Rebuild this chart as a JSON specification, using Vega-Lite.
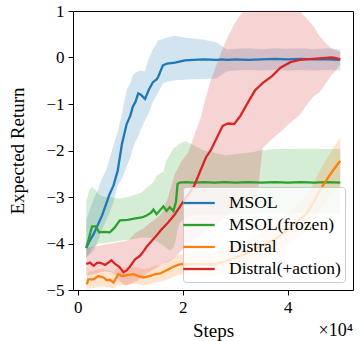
{
  "$schema": "https://vega.github.io/schema/vega-lite/v6.json",
  "width": 280,
  "height": 279,
  "autosize": {"type": "none"},
  "padding": {"left": 73, "top": 11, "right": 7, "bottom": 51},
  "datasets": {
    "curves": [
      {"series": "MSOL", "step": 1600, "mean": -4.09, "lo": -4.3, "hi": -3.5},
      {"series": "MSOL", "step": 2200, "mean": -3.95, "lo": -4.25, "hi": -3.3},
      {"series": "MSOL", "step": 3000, "mean": -3.8, "lo": -4.15, "hi": -3.05},
      {"series": "MSOL", "step": 3800, "mean": -3.6, "lo": -3.95, "hi": -2.85},
      {"series": "MSOL", "step": 4600, "mean": -3.4, "lo": -3.7, "hi": -2.6},
      {"series": "MSOL", "step": 5400, "mean": -3.15, "lo": -3.5, "hi": -2.42},
      {"series": "MSOL", "step": 6000, "mean": -2.95, "lo": -3.35, "hi": -2.2},
      {"series": "MSOL", "step": 6800, "mean": -2.75, "lo": -3.1, "hi": -1.88},
      {"series": "MSOL", "step": 7600, "mean": -2.43, "lo": -2.75, "hi": -1.6},
      {"series": "MSOL", "step": 8400, "mean": -1.86, "lo": -2.6, "hi": -1.2},
      {"series": "MSOL", "step": 9300, "mean": -1.43, "lo": -2.35, "hi": -0.7},
      {"series": "MSOL", "step": 10000, "mean": -1.25, "lo": -2.15, "hi": -0.55},
      {"series": "MSOL", "step": 10500, "mean": -1.05, "lo": -1.95, "hi": -0.38},
      {"series": "MSOL", "step": 11000, "mean": -0.95, "lo": -1.8, "hi": -0.32},
      {"series": "MSOL", "step": 11500, "mean": -0.77, "lo": -1.7, "hi": -0.3},
      {"series": "MSOL", "step": 12000, "mean": -0.8, "lo": -1.55, "hi": -0.28},
      {"series": "MSOL", "step": 12800, "mean": -0.89, "lo": -1.35, "hi": -0.3},
      {"series": "MSOL", "step": 13500, "mean": -0.7, "lo": -1.2, "hi": -0.02},
      {"series": "MSOL", "step": 14300, "mean": -0.53, "lo": -0.95, "hi": 0.18},
      {"series": "MSOL", "step": 15000, "mean": -0.47, "lo": -0.82, "hi": 0.3},
      {"series": "MSOL", "step": 15300, "mean": -0.42, "lo": -0.75, "hi": 0.37},
      {"series": "MSOL", "step": 16200, "mean": -0.17, "lo": -0.56, "hi": 0.4},
      {"series": "MSOL", "step": 17000, "mean": -0.13, "lo": -0.52, "hi": 0.43},
      {"series": "MSOL", "step": 18500, "mean": -0.11, "lo": -0.49, "hi": 0.47},
      {"series": "MSOL", "step": 20400, "mean": -0.06, "lo": -0.48, "hi": 0.43},
      {"series": "MSOL", "step": 22000, "mean": -0.05, "lo": -0.47, "hi": 0.41},
      {"series": "MSOL", "step": 24000, "mean": -0.04, "lo": -0.46, "hi": 0.38},
      {"series": "MSOL", "step": 26400, "mean": -0.05, "lo": -0.45, "hi": 0.33},
      {"series": "MSOL", "step": 27500, "mean": -0.04, "lo": -0.36, "hi": 0.24},
      {"series": "MSOL", "step": 28400, "mean": -0.05, "lo": -0.3, "hi": 0.17},
      {"series": "MSOL", "step": 30000, "mean": -0.04, "lo": -0.28, "hi": 0.19},
      {"series": "MSOL", "step": 32500, "mean": -0.05, "lo": -0.27, "hi": 0.2},
      {"series": "MSOL", "step": 35000, "mean": -0.04, "lo": -0.28, "hi": 0.18},
      {"series": "MSOL", "step": 37500, "mean": -0.03, "lo": -0.27, "hi": 0.2},
      {"series": "MSOL", "step": 40000, "mean": -0.04, "lo": -0.28, "hi": 0.19},
      {"series": "MSOL", "step": 42500, "mean": -0.03, "lo": -0.27, "hi": 0.2},
      {"series": "MSOL", "step": 45000, "mean": -0.04, "lo": -0.28, "hi": 0.18},
      {"series": "MSOL", "step": 47500, "mean": -0.04, "lo": -0.27, "hi": 0.2},
      {"series": "MSOL", "step": 50000, "mean": -0.05, "lo": -0.28, "hi": 0.17},

      {"series": "MSOL(frozen)", "step": 1600, "mean": -4.1, "lo": -4.3, "hi": -3.1},
      {"series": "MSOL(frozen)", "step": 2200, "mean": -3.85, "lo": -4.2, "hi": -2.85},
      {"series": "MSOL(frozen)", "step": 2700, "mean": -3.63, "lo": -4.1, "hi": -2.78},
      {"series": "MSOL(frozen)", "step": 3400, "mean": -3.63, "lo": -4.05, "hi": -2.85},
      {"series": "MSOL(frozen)", "step": 4050, "mean": -3.76, "lo": -4.0, "hi": -2.95},
      {"series": "MSOL(frozen)", "step": 5000, "mean": -3.75, "lo": -4.0, "hi": -3.0},
      {"series": "MSOL(frozen)", "step": 6100, "mean": -3.76, "lo": -3.98, "hi": -3.0},
      {"series": "MSOL(frozen)", "step": 7000, "mean": -3.66, "lo": -3.96, "hi": -3.02},
      {"series": "MSOL(frozen)", "step": 8000, "mean": -3.5, "lo": -3.94, "hi": -3.04},
      {"series": "MSOL(frozen)", "step": 9500, "mean": -3.49, "lo": -3.92, "hi": -3.0},
      {"series": "MSOL(frozen)", "step": 11000, "mean": -3.46, "lo": -3.9, "hi": -2.95},
      {"series": "MSOL(frozen)", "step": 12200, "mean": -3.44, "lo": -3.87, "hi": -2.9},
      {"series": "MSOL(frozen)", "step": 13100, "mean": -3.4, "lo": -3.87, "hi": -2.8},
      {"series": "MSOL(frozen)", "step": 14000, "mean": -3.33, "lo": -3.88, "hi": -2.72},
      {"series": "MSOL(frozen)", "step": 14400, "mean": -3.27, "lo": -3.9, "hi": -2.68},
      {"series": "MSOL(frozen)", "step": 15000, "mean": -3.37, "lo": -3.95, "hi": -2.55},
      {"series": "MSOL(frozen)", "step": 16300, "mean": -3.2, "lo": -4.05, "hi": -2.45},
      {"series": "MSOL(frozen)", "step": 16900, "mean": -3.3, "lo": -4.1, "hi": -2.2},
      {"series": "MSOL(frozen)", "step": 17500, "mean": -3.22, "lo": -4.15, "hi": -2.1},
      {"series": "MSOL(frozen)", "step": 18200, "mean": -3.3, "lo": -4.1, "hi": -1.95},
      {"series": "MSOL(frozen)", "step": 18700, "mean": -3.1, "lo": -3.9, "hi": -1.92},
      {"series": "MSOL(frozen)", "step": 19000, "mean": -2.72, "lo": -3.7, "hi": -1.9},
      {"series": "MSOL(frozen)", "step": 19400, "mean": -2.69, "lo": -3.55, "hi": -1.85},
      {"series": "MSOL(frozen)", "step": 20500, "mean": -2.68, "lo": -3.45, "hi": -1.8},
      {"series": "MSOL(frozen)", "step": 22000, "mean": -2.69, "lo": -3.4, "hi": -1.88},
      {"series": "MSOL(frozen)", "step": 24000, "mean": -2.68, "lo": -3.38, "hi": -2.0},
      {"series": "MSOL(frozen)", "step": 26000, "mean": -2.69, "lo": -3.38, "hi": -2.05},
      {"series": "MSOL(frozen)", "step": 28000, "mean": -2.68, "lo": -3.4, "hi": -2.1},
      {"series": "MSOL(frozen)", "step": 30000, "mean": -2.69, "lo": -3.38, "hi": -2.08},
      {"series": "MSOL(frozen)", "step": 32500, "mean": -2.68, "lo": -3.37, "hi": -2.05},
      {"series": "MSOL(frozen)", "step": 35000, "mean": -2.69, "lo": -3.36, "hi": -2.0},
      {"series": "MSOL(frozen)", "step": 37500, "mean": -2.68, "lo": -3.35, "hi": -1.97},
      {"series": "MSOL(frozen)", "step": 40000, "mean": -2.69, "lo": -3.36, "hi": -1.97},
      {"series": "MSOL(frozen)", "step": 42500, "mean": -2.68, "lo": -3.35, "hi": -1.96},
      {"series": "MSOL(frozen)", "step": 45000, "mean": -2.69, "lo": -3.36, "hi": -1.96},
      {"series": "MSOL(frozen)", "step": 47500, "mean": -2.68, "lo": -3.35, "hi": -1.97},
      {"series": "MSOL(frozen)", "step": 50000, "mean": -2.69, "lo": -3.37, "hi": -1.97},

      {"series": "Distral", "step": 1700, "mean": -4.88, "lo": -4.98, "hi": -4.72},
      {"series": "Distral", "step": 2000, "mean": -4.77, "lo": -4.97, "hi": -4.6},
      {"series": "Distral", "step": 3000, "mean": -4.77, "lo": -4.96, "hi": -4.58},
      {"series": "Distral", "step": 3900, "mean": -4.7, "lo": -4.93, "hi": -4.55},
      {"series": "Distral", "step": 4900, "mean": -4.73, "lo": -4.92, "hi": -4.55},
      {"series": "Distral", "step": 5500, "mean": -4.79, "lo": -4.95, "hi": -4.58},
      {"series": "Distral", "step": 6100, "mean": -4.78, "lo": -4.95, "hi": -4.58},
      {"series": "Distral", "step": 6800, "mean": -4.84, "lo": -4.97, "hi": -4.62},
      {"series": "Distral", "step": 7700, "mean": -4.66, "lo": -4.9, "hi": -4.5},
      {"series": "Distral", "step": 8400, "mean": -4.7, "lo": -4.9, "hi": -4.52},
      {"series": "Distral", "step": 9300, "mean": -4.68, "lo": -4.9, "hi": -4.5},
      {"series": "Distral", "step": 10600, "mean": -4.66, "lo": -4.87, "hi": -4.5},
      {"series": "Distral", "step": 11500, "mean": -4.7, "lo": -4.88, "hi": -4.52},
      {"series": "Distral", "step": 12500, "mean": -4.73, "lo": -4.9, "hi": -4.55},
      {"series": "Distral", "step": 13700, "mean": -4.7, "lo": -4.88, "hi": -4.52},
      {"series": "Distral", "step": 14700, "mean": -4.66, "lo": -4.85, "hi": -4.48},
      {"series": "Distral", "step": 15600, "mean": -4.65, "lo": -4.83, "hi": -4.46},
      {"series": "Distral", "step": 17000, "mean": -4.57, "lo": -4.78, "hi": -4.38},
      {"series": "Distral", "step": 18200, "mean": -4.5, "lo": -4.72, "hi": -4.3},
      {"series": "Distral", "step": 19100, "mean": -4.46, "lo": -4.68, "hi": -4.25},
      {"series": "Distral", "step": 20000, "mean": -4.44, "lo": -4.66, "hi": -4.22},
      {"series": "Distral", "step": 23000, "mean": -4.45, "lo": -4.68, "hi": -4.2},
      {"series": "Distral", "step": 26000, "mean": -4.45, "lo": -4.7, "hi": -4.2},
      {"series": "Distral", "step": 29000, "mean": -4.35, "lo": -4.62, "hi": -4.08},
      {"series": "Distral", "step": 32000, "mean": -4.22, "lo": -4.5, "hi": -3.93},
      {"series": "Distral", "step": 35000, "mean": -4.05, "lo": -4.35, "hi": -3.75},
      {"series": "Distral", "step": 38000, "mean": -3.88, "lo": -4.2, "hi": -3.55},
      {"series": "Distral", "step": 41000, "mean": -3.6, "lo": -3.95, "hi": -3.25},
      {"series": "Distral", "step": 43500, "mean": -3.37, "lo": -3.75, "hi": -2.98},
      {"series": "Distral", "step": 45000, "mean": -3.1, "lo": -3.5, "hi": -2.7},
      {"series": "Distral", "step": 46000, "mean": -2.88, "lo": -3.3, "hi": -2.45},
      {"series": "Distral", "step": 47300, "mean": -2.65, "lo": -3.1, "hi": -2.2},
      {"series": "Distral", "step": 48600, "mean": -2.43, "lo": -2.9, "hi": -1.95},
      {"series": "Distral", "step": 50000, "mean": -2.22, "lo": -2.75, "hi": -1.72},

      {"series": "Distral(+action)", "step": 1600, "mean": -4.44, "lo": -4.7, "hi": -4.1},
      {"series": "Distral(+action)", "step": 2300, "mean": -4.41, "lo": -4.68, "hi": -4.08},
      {"series": "Distral(+action)", "step": 3000, "mean": -4.48, "lo": -4.66, "hi": -4.07},
      {"series": "Distral(+action)", "step": 3600, "mean": -4.42, "lo": -4.65, "hi": -4.06},
      {"series": "Distral(+action)", "step": 4200, "mean": -4.41, "lo": -4.62, "hi": -4.05},
      {"series": "Distral(+action)", "step": 5200, "mean": -4.46, "lo": -4.6, "hi": -4.02},
      {"series": "Distral(+action)", "step": 6400, "mean": -4.36, "lo": -4.62, "hi": -4.0},
      {"series": "Distral(+action)", "step": 7100, "mean": -4.44, "lo": -4.68, "hi": -3.99},
      {"series": "Distral(+action)", "step": 7900, "mean": -4.5, "lo": -4.8, "hi": -3.97},
      {"series": "Distral(+action)", "step": 8700, "mean": -4.62, "lo": -4.88, "hi": -3.95},
      {"series": "Distral(+action)", "step": 9300, "mean": -4.58, "lo": -4.9, "hi": -3.94},
      {"series": "Distral(+action)", "step": 9900, "mean": -4.5, "lo": -4.87, "hi": -3.9},
      {"series": "Distral(+action)", "step": 10900, "mean": -4.34, "lo": -4.82, "hi": -3.78},
      {"series": "Distral(+action)", "step": 11800, "mean": -4.27, "lo": -4.76, "hi": -3.72},
      {"series": "Distral(+action)", "step": 12500, "mean": -4.17, "lo": -4.7, "hi": -3.68},
      {"series": "Distral(+action)", "step": 13100, "mean": -4.07, "lo": -4.65, "hi": -3.62},
      {"series": "Distral(+action)", "step": 14100, "mean": -3.94, "lo": -4.58, "hi": -3.53},
      {"series": "Distral(+action)", "step": 15000, "mean": -3.83, "lo": -4.52, "hi": -3.45},
      {"series": "Distral(+action)", "step": 16000, "mean": -3.69, "lo": -4.44, "hi": -3.35},
      {"series": "Distral(+action)", "step": 17200, "mean": -3.55, "lo": -4.4, "hi": -3.0},
      {"series": "Distral(+action)", "step": 18500, "mean": -3.37, "lo": -4.3, "hi": -2.5},
      {"series": "Distral(+action)", "step": 19800, "mean": -3.15, "lo": -4.15, "hi": -2.22},
      {"series": "Distral(+action)", "step": 21000, "mean": -2.95, "lo": -4.02, "hi": -2.05},
      {"series": "Distral(+action)", "step": 22100, "mean": -2.78, "lo": -3.92, "hi": -1.7},
      {"series": "Distral(+action)", "step": 23400, "mean": -2.42, "lo": -3.82, "hi": -1.3},
      {"series": "Distral(+action)", "step": 24400, "mean": -2.15, "lo": -3.72, "hi": -0.85},
      {"series": "Distral(+action)", "step": 25300, "mean": -2.0, "lo": -3.66, "hi": -0.5},
      {"series": "Distral(+action)", "step": 26600, "mean": -1.7, "lo": -3.58, "hi": -0.1},
      {"series": "Distral(+action)", "step": 27600, "mean": -1.47, "lo": -3.45, "hi": 0.2},
      {"series": "Distral(+action)", "step": 28600, "mean": -1.42, "lo": -3.38, "hi": 0.45},
      {"series": "Distral(+action)", "step": 29800, "mean": -1.43, "lo": -3.28, "hi": 0.72},
      {"series": "Distral(+action)", "step": 31000, "mean": -1.25, "lo": -3.2, "hi": 0.92},
      {"series": "Distral(+action)", "step": 32500, "mean": -0.95, "lo": -3.1, "hi": 1.1},
      {"series": "Distral(+action)", "step": 33800, "mean": -0.7, "lo": -3.0, "hi": 1.2},
      {"series": "Distral(+action)", "step": 34300, "mean": -0.65, "lo": -2.9, "hi": 1.25},
      {"series": "Distral(+action)", "step": 35200, "mean": -0.55, "lo": -1.95, "hi": 1.3},
      {"series": "Distral(+action)", "step": 37000, "mean": -0.4, "lo": -1.75, "hi": 1.3},
      {"series": "Distral(+action)", "step": 38600, "mean": -0.22, "lo": -1.6, "hi": 1.3},
      {"series": "Distral(+action)", "step": 40500, "mean": -0.1, "lo": -1.4, "hi": 1.2},
      {"series": "Distral(+action)", "step": 42300, "mean": -0.05, "lo": -1.23, "hi": 1.0},
      {"series": "Distral(+action)", "step": 43400, "mean": -0.04, "lo": -1.05, "hi": 0.86},
      {"series": "Distral(+action)", "step": 44800, "mean": -0.03, "lo": -0.85, "hi": 0.69},
      {"series": "Distral(+action)", "step": 46000, "mean": -0.02, "lo": -0.75, "hi": 0.47},
      {"series": "Distral(+action)", "step": 47300, "mean": -0.01, "lo": -0.55, "hi": 0.3},
      {"series": "Distral(+action)", "step": 48300, "mean": 0.0, "lo": -0.38, "hi": 0.2},
      {"series": "Distral(+action)", "step": 49000, "mean": -0.01, "lo": -0.3, "hi": 0.16},
      {"series": "Distral(+action)", "step": 50000, "mean": -0.04, "lo": -0.15, "hi": 0.12}
    ],
    "note": [{"label": "×10⁴"}]
  },
  "layer": [
    {
      "data": {"name": "curves"},
      "mark": {"type": "area", "opacity": 0.2, "clip": true},
      "encoding": {
        "x": {"field": "step", "type": "quantitative", "scale": {"domain": [-925, 52425], "nice": false, "zero": false},
              "axis": {"values": [0, 20000, 40000], "labelExpr": "format(datum.value / 10000, 'd')", "title": "Steps", "titleY": 46, "titleBaseline": "alphabetic", "labelFlush": false, "labelOverlap": false, "labelPadding": 4}},
        "y": {"field": "lo", "type": "quantitative", "scale": {"domain": [-5, 1], "nice": false, "zero": false},
              "axis": {"values": [-5, -4, -3, -2, -1, 0, 1], "title": "Expected Return", "titleX": -46, "titleBaseline": "bottom", "labelPadding": 4}},
        "y2": {"field": "hi"},
        "color": {"field": "series", "type": "nominal", "legend": null,
                  "scale": {"domain": ["MSOL", "MSOL(frozen)", "Distral", "Distral(+action)"], "range": ["#1f77b4", "#2ca02c", "#ff7f0e", "#d62728"]}}
      }
    },
    {
      "data": {"name": "curves"},
      "mark": {"type": "line", "strokeWidth": 2.3, "clip": true},
      "encoding": {
        "x": {"field": "step", "type": "quantitative"},
        "y": {"field": "mean", "type": "quantitative"},
        "color": {"field": "series", "type": "nominal",
                  "scale": {"domain": ["MSOL", "MSOL(frozen)", "Distral", "Distral(+action)"], "range": ["#1f77b4", "#2ca02c", "#ff7f0e", "#d62728"]},
                  "legend": {"title": null, "orient": "bottom-right", "offset": 8, "symbolType": "M-1.5,0L1.5,0", "symbolSize": 441, "symbolStrokeWidth": 2.3, "labelOffset": 18, "labelFontSize": 17.5, "labelFont": "Liberation Serif", "labelColor": "black", "padding": 4, "rowPadding": 1, "fillColor": "rgba(255,255,255,0.8)", "strokeColor": "#cccccc", "cornerRadius": 3, "labelLimit": 300}}
      }
    },
    {
      "data": {"name": "note"},
      "mark": {"type": "text", "align": "right", "baseline": "alphabetic", "dy": 46, "fontSize": 18, "font": "Liberation Serif, DejaVu Serif", "color": "black"},
      "encoding": {
        "x": {"datum": 52425, "type": "quantitative"},
        "y": {"datum": -5, "type": "quantitative"},
        "text": {"field": "label"}
      }
    }
  ],
  "resolve": {"scale": {"color": "independent"}, "legend": {"color": "independent"}},
  "config": {
    "view": {"stroke": "black", "strokeWidth": 1},
    "axis": {"domain": false, "grid": false, "tickColor": "black", "tickSize": 5, "tickWidth": 1,
             "labelFont": "Liberation Serif", "labelFontSize": 17, "labelColor": "black",
             "titleFont": "Liberation Serif", "titleFontSize": 19, "titleFontWeight": "normal", "titleColor": "black"}
  }
}
